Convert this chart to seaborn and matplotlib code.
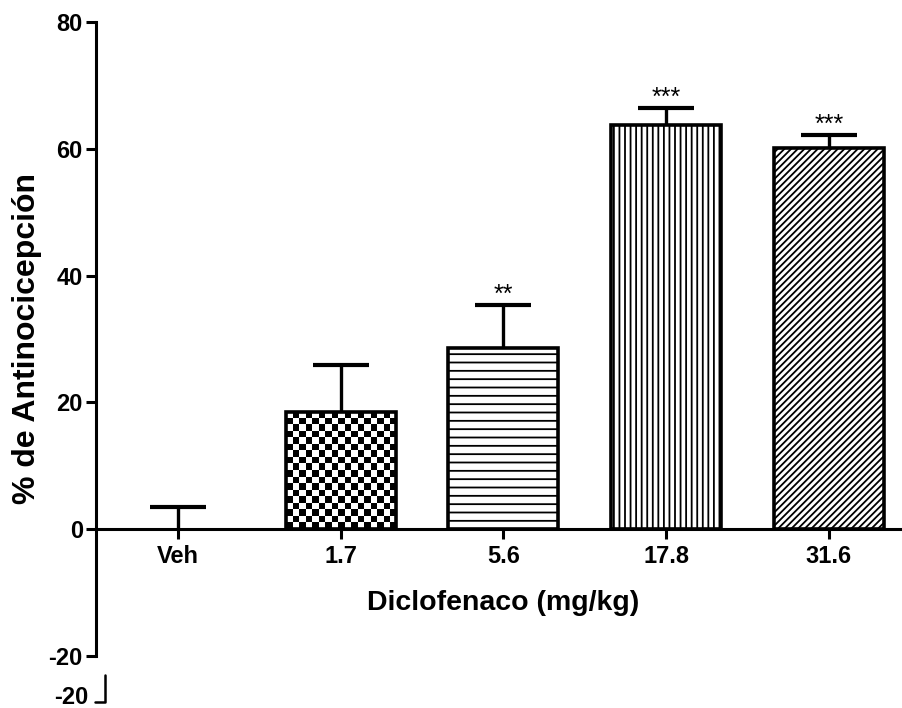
import numpy as np
import pandas as pd
import matplotlib
matplotlib.use("Agg")
import matplotlib.pyplot as plt
from matplotlib.lines import Line2D
import seaborn as sns

# Dose groups, mean % antinociception and SEM
doses = ["Veh", "1.7", "5.6", "17.8", "31.6"]
means = [0.0, 18.5, 28.6, 63.7, 60.2]
sem = [3.5, 7.4, 6.8, 2.8, 1.9]
stars = ["", "", "**", "***", "***"]
patterns = [None, "checker", "--", "|||", "/////"]
y_ticks = [-20, 0, 20, 40, 60, 80]

sns.set_theme(style="ticks")
NARROW = ["Liberation Sans Narrow", "Liberation Sans", "DejaVu Sans"]
plt.rcParams["font.family"] = NARROW
plt.rcParams["axes.unicode_minus"] = False
plt.rcParams["hatch.linewidth"] = 1.3
plt.rcParams["hatch.color"] = "black"
plt.rcParams["text.color"] = "black"
plt.rcParams["axes.labelcolor"] = "black"

W, H = 903, 708
fig = plt.figure(figsize=(W / 100, H / 100), dpi=100)
ax = fig.add_axes([96 / W, 52 / H, 807 / W, 634 / H])

df = pd.DataFrame({"dose": doses, "pct": means})
sns.barplot(data=df, x="dose", y="pct", order=doses, color="white",
            edgecolor="black", linewidth=2.6, width=0.676, errorbar=None,
            saturation=1, ax=ax)

ax.set_xlim(-0.504, 4.455)
ax.set_ylim(-20, 80)
ax.set_yticks(y_ticks)

# fill patterns
for patch, pat in zip(ax.patches, patterns):
    patch.set_zorder(2)
    if patch.get_height() == 0:
        patch.set_visible(False)
        continue
    if pat is None:
        continue
    if pat == "checker":
        patch.set_facecolor("none")
        x0, w, h = patch.get_x(), patch.get_width(), patch.get_height()
        p0 = ax.transData.transform((x0, 0))
        p1 = ax.transData.transform((x0 + w, h))
        ncol = max(1, int(round(abs(p1[0] - p0[0]) / 6.6)))
        nrow = max(1, int(round(abs(p1[1] - p0[1]) / 6.6)))
        board = (np.add.outer(np.arange(nrow), np.arange(ncol)) % 2).astype(float)
        im = ax.imshow(board, extent=(x0, x0 + w, 0, h), cmap="gray_r",
                       interpolation="nearest", aspect="auto", zorder=1.5,
                       vmin=0, vmax=1)
        im.set_clip_path(patch)
    else:
        patch.set_hatch(pat)

ax.set_xlim(-0.504, 4.455)
ax.set_ylim(-20, 80)

# upper error bars only
xpos = np.arange(len(doses))
eb = ax.errorbar(xpos, means, yerr=[np.zeros(len(sem)), sem], fmt="none",
                 ecolor="black", elinewidth=2.4, capsize=20.5, capthick=3.0,
                 zorder=3)
caps = eb.lines[1]
if len(caps) >= 2:
    caps[0].set_visible(False)

# significance marks
for i, s in enumerate(stars):
    if s:
        ax.text(xpos[i], means[i] + sem[i] + 1.6, s, ha="center", va="center",
                fontsize=18, family=["Liberation Sans", "DejaVu Sans"],
                color="black")

# axes styling
for side in ("top", "right"):
    ax.spines[side].set_visible(False)
ax.spines["bottom"].set_position(("data", 0))
for side in ("left", "bottom"):
    ax.spines[side].set_linewidth(2.2)
    ax.spines[side].set_color("black")
ax.tick_params(axis="both", direction="out", length=7.5, width=2.2,
               colors="black", labelsize=17)
ax.tick_params(axis="y", pad=2)
ax.tick_params(axis="x", pad=4)
for lab in ax.get_xticklabels() + ax.get_yticklabels():
    lab.set_fontweight("bold")
ax.set_facecolor("white")

ax.set_xlabel("Diclofenaco (mg/kg)", fontsize=20.5, fontweight="bold",
              color="black")
ax.xaxis.label.set_va("center")
ax.xaxis.set_label_coords(407 / 807, 53 / 634)
ax.set_ylabel("% de Antinocicepción", fontsize=23, fontweight="bold",
              family=["Liberation Sans", "DejaVu Sans"], color="black")
ax.yaxis.label.set_va("center")
ax.yaxis.set_label_coords(-69 / 807, 0.5)

# stray lower-bound mark beneath the y axis
fig.text(88 / W, 1 - 697 / H, "-20", ha="right", va="center", fontsize=17,
         fontweight="bold", color="black")
fig.add_artist(Line2D([95 / W, 105 / W, 105 / W],
                      [1 - 702 / H, 1 - 702 / H, 1 - 675 / H],
                      transform=fig.transFigure, color="black", lw=1.8))

fig.savefig("out.png", dpi=100, facecolor="white")
